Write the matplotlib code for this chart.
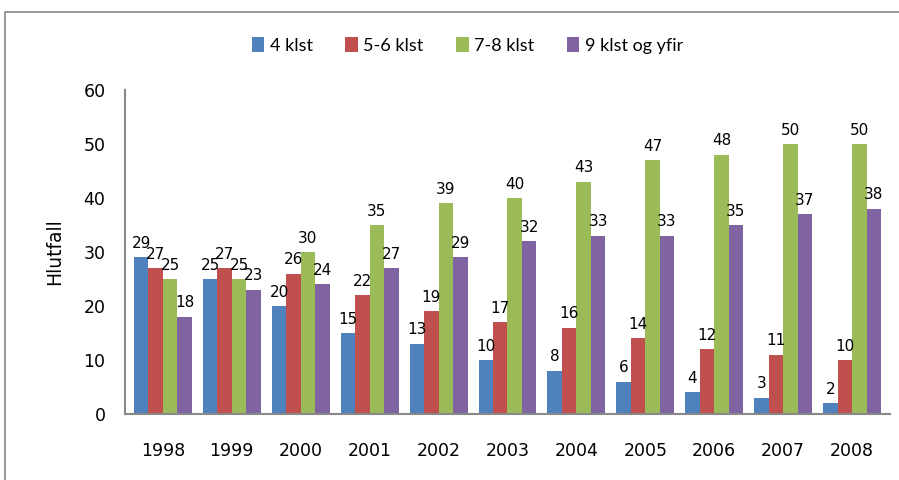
import numpy as np
import matplotlib.pyplot as plt
from matplotlib.patches import Rectangle

years = ["1998", "1999", "2000", "2001", "2002", "2003", "2004", "2005", "2006", "2007", "2008"]
klst_4 = [29, 25, 20, 15, 13, 10, 8, 6, 4, 3, 2]
klst_5_6 = [27, 27, 26, 22, 19, 17, 16, 14, 12, 11, 10]
klst_7_8 = [25, 25, 30, 35, 39, 40, 43, 47, 48, 50, 50]
klst_9 = [18, 23, 24, 27, 29, 32, 33, 33, 35, 37, 38]

series = [klst_4, klst_5_6, klst_7_8, klst_9]
names = ["4 klst", "5-6 klst", "7-8 klst", "9 klst og yfir"]
colors = ["#4F81BD", "#C0504D", "#9BBB59", "#8064A2"]

fig = plt.figure(figsize=(8.99, 4.8), dpi=100)
ax = fig.add_axes([0.139, 0.1375, 0.851, 0.675])

# outer chart frame
fig.patches.append(Rectangle((5 / 899, -0.1), 1.2, 1 - 12 / 480 + 0.1,
                             transform=fig.transFigure, fill=False,
                             edgecolor="#888888", linewidth=1.2))

x = np.arange(len(years))
w = 0.21
for i, (vals, name, c) in enumerate(zip(series, names, colors)):
    pos = x + (i - 1.5) * w
    bars = ax.bar(pos, vals, w, color=c, label=name, edgecolor="none")
    for xp, v in zip(pos, vals):
        ax.text(xp, v + 1.2, str(v), ha="center", va="bottom",
                fontsize=11, family="DejaVu Sans")

ax.set_xlim(-0.55, len(years) - 0.45)
ax.set_ylim(0, 60)
ax.set_yticks(range(0, 61, 10))
ax.set_xticks(x)
ax.set_xticklabels(years)
ax.tick_params(axis="both", length=0, labelsize=12.5)
ax.tick_params(axis="x", pad=20)
ax.tick_params(axis="y", pad=14)
for s in ["top", "right"]:
    ax.spines[s].set_visible(False)
for s in ["left", "bottom"]:
    ax.spines[s].set_color("#888888")
    ax.spines[s].set_linewidth(1.5)

ax.set_ylabel("Hlutfall", fontsize=13.5, family="DejaVu Sans", labelpad=14)

fig.legend(loc="center", bbox_to_anchor=(0.52, 0.905), ncol=4, frameon=False,
           prop={"family": "Lato", "size": 13}, handlelength=0.7,
           handleheight=0.9, handletextpad=0.3, columnspacing=1.8)

fig.savefig("out.png", dpi=100)
